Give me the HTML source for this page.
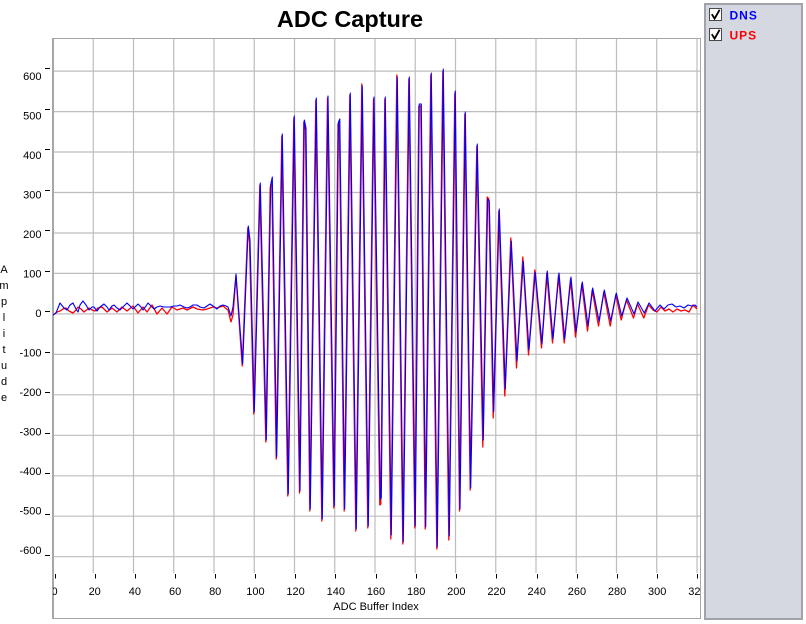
<!DOCTYPE html>
<html><head><meta charset="utf-8"><style>
html,body{margin:0;padding:0;background:#fff;}
svg{display:block;font-family:"Liberation Sans",Arial,sans-serif;}
</style></head><body>
<svg width="806" height="624" viewBox="0 0 806 624" xmlns="http://www.w3.org/2000/svg">
<rect x="0" y="0" width="806" height="624" fill="#fff"/>
<defs>
<clipPath id="pc"><rect x="53" y="38" width="648" height="535"/></clipPath>
<clipPath id="xl"><rect x="53" y="570" width="648" height="40"/></clipPath>
</defs>
<text x="350" y="27" font-size="23.5" font-weight="bold" text-anchor="middle" fill="#000">ADC Capture</text>
<rect x="52.5" y="38.5" width="648" height="580" fill="#fff" stroke="#a4a7ab" stroke-width="1"/>
<line x1="53.5" y1="38" x2="53.5" y2="619" stroke="#a4a7ab" stroke-width="1"/>
<g stroke="#bdbdbd" stroke-width="1.2">
<line x1="93.25" y1="39" x2="93.25" y2="573"/><line x1="133.5" y1="39" x2="133.5" y2="573"/>
<line x1="173.75" y1="39" x2="173.75" y2="573"/><line x1="214" y1="39" x2="214" y2="573"/>
<line x1="254.25" y1="39" x2="254.25" y2="573"/><line x1="294.5" y1="39" x2="294.5" y2="573"/>
<line x1="334.75" y1="39" x2="334.75" y2="573"/><line x1="375" y1="39" x2="375" y2="573"/>
<line x1="415.25" y1="39" x2="415.25" y2="573"/><line x1="455.5" y1="39" x2="455.5" y2="573"/>
<line x1="495.75" y1="39" x2="495.75" y2="573"/><line x1="536" y1="39" x2="536" y2="573"/>
<line x1="576.25" y1="39" x2="576.25" y2="573"/><line x1="616.5" y1="39" x2="616.5" y2="573"/>
<line x1="656.75" y1="39" x2="656.75" y2="573"/><line x1="697" y1="39" x2="697" y2="573"/>
<line x1="54" y1="71.1" x2="700" y2="71.1"/><line x1="54" y1="111.6" x2="700" y2="111.6"/>
<line x1="54" y1="152.0" x2="700" y2="152.0"/><line x1="54" y1="192.5" x2="700" y2="192.5"/>
<line x1="54" y1="233.0" x2="700" y2="233.0"/><line x1="54" y1="273.4" x2="700" y2="273.4"/>
<line x1="54" y1="313.9" x2="700" y2="313.9"/><line x1="54" y1="354.4" x2="700" y2="354.4"/>
<line x1="54" y1="394.8" x2="700" y2="394.8"/><line x1="54" y1="435.3" x2="700" y2="435.3"/>
<line x1="54" y1="475.8" x2="700" y2="475.8"/><line x1="54" y1="516.2" x2="700" y2="516.2"/>
<line x1="54" y1="556.7" x2="700" y2="556.7"/>
</g>
<g stroke="#000" stroke-width="1">
<line x1="45" y1="68.5" x2="50" y2="68.5"/><line x1="45" y1="109.5" x2="50" y2="109.5"/>
<line x1="45" y1="149.5" x2="50" y2="149.5"/><line x1="45" y1="190.5" x2="50" y2="190.5"/>
<line x1="45" y1="230.5" x2="50" y2="230.5"/><line x1="45" y1="271.5" x2="50" y2="271.5"/>
<line x1="45" y1="311.5" x2="50" y2="311.5"/><line x1="45" y1="352.5" x2="50" y2="352.5"/>
<line x1="45" y1="392.5" x2="50" y2="392.5"/><line x1="45" y1="433.5" x2="50" y2="433.5"/>
<line x1="45" y1="473.5" x2="50" y2="473.5"/><line x1="45" y1="514.5" x2="50" y2="514.5"/>
<line x1="45" y1="555.5" x2="50" y2="555.5"/>
</g>
<g font-size="11" text-anchor="end" fill="#000">
<text x="41.5" y="80">600</text><text x="41.5" y="119.5">500</text>
<text x="41.5" y="159">400</text><text x="41.5" y="198.5">300</text>
<text x="41.5" y="238">200</text><text x="41.5" y="277.5">100</text>
<text x="41.5" y="317">0</text><text x="41.5" y="356.5">-100</text>
<text x="41.5" y="396">-200</text><text x="41.5" y="435.5">-300</text>
<text x="41.5" y="475">-400</text><text x="41.5" y="514.5">-500</text>
<text x="41.5" y="554">-600</text>
</g>
<g stroke="#000" stroke-width="1">
<line x1="55.5" y1="574" x2="55.5" y2="578.5"/><line x1="95.5" y1="574" x2="95.5" y2="578.5"/>
<line x1="135.5" y1="574" x2="135.5" y2="578.5"/><line x1="175.5" y1="574" x2="175.5" y2="578.5"/>
<line x1="215.5" y1="574" x2="215.5" y2="578.5"/><line x1="255.5" y1="574" x2="255.5" y2="578.5"/>
<line x1="295.5" y1="574" x2="295.5" y2="578.5"/><line x1="335.5" y1="574" x2="335.5" y2="578.5"/>
<line x1="376.5" y1="574" x2="376.5" y2="578.5"/><line x1="416.5" y1="574" x2="416.5" y2="578.5"/>
<line x1="456.5" y1="574" x2="456.5" y2="578.5"/><line x1="496.5" y1="574" x2="496.5" y2="578.5"/>
<line x1="537.5" y1="574" x2="537.5" y2="578.5"/><line x1="577.5" y1="574" x2="577.5" y2="578.5"/>
<line x1="617.5" y1="574" x2="617.5" y2="578.5"/><line x1="657.5" y1="574" x2="657.5" y2="578.5"/>
<line x1="697.5" y1="574" x2="697.5" y2="578.5"/>
</g>
<g font-size="11" text-anchor="middle" fill="#000" clip-path="url(#xl)">
<text x="54.5" y="595">0</text><text x="94.7" y="595">20</text>
<text x="134.9" y="595">40</text><text x="175.1" y="595">60</text>
<text x="215.2" y="595">80</text><text x="255.4" y="595">100</text>
<text x="295.6" y="595">120</text><text x="335.8" y="595">140</text>
<text x="376" y="595">160</text><text x="416.2" y="595">180</text>
<text x="456.3" y="595">200</text><text x="496.5" y="595">220</text>
<text x="536.7" y="595">240</text><text x="576.9" y="595">260</text>
<text x="617.1" y="595">280</text><text x="657.2" y="595">300</text>
<text x="697.4" y="595">320</text>
</g>
<text x="376" y="610" font-size="11" text-anchor="middle" fill="#000">ADC Buffer Index</text>
<g font-size="11" text-anchor="middle" fill="#000">
<text x="4" y="273">A</text><text x="4" y="289">m</text><text x="4" y="305">p</text>
<text x="4" y="321">l</text><text x="4" y="337">i</text><text x="4" y="353">t</text>
<text x="4" y="369">u</text><text x="4" y="385">d</text><text x="4" y="401">e</text>
</g>
<g clip-path="url(#pc)" fill="none" stroke-linejoin="round">
<polyline stroke="#ff0000" stroke-width="1.3" points="53,315 57,312 60,311 63,309 66,308 69,311 73,313 76,310 78,307 81,309 84,312 89,308 92,310 95,311 98,308 102,307 107,312 112,308 117,312 122,307 127,311 133,306 138,313 143,307 147,312 152,305 157,314 162,308 167,314 172,307 177,310 183,308 187,310 193,307 197,309 203,310 207,309 213,307 217,308 223,306 228,310 231,322 233,315 236,276 242.2,366 247.8,228 249.5,242 253.8,414 259.8,185 265.8,442 270.2,188 271.8,180 276.2,459 281.8,136 287.8,496 293.8,118 299.5,493 303.8,122 305.5,130 309.8,511 315.8,100 321.8,521 327.5,98 333.8,508 338,124 339.3,121 344.2,511 349.8,95 355.8,531 361.8,84 367.8,528 373.5,99 379.8,505 380.8,504 384.8,99 390.8,539 396.8,75 402.8,544 408.8,79 414.8,528 418.8,106 420.8,106 425.2,529 430.8,75 436.8,549 442.8,71 448.8,540 454.8,93 459.5,511 464.8,114 470.2,490 476.8,146 482.8,447 487.2,197 488.8,199 493.2,418 498.8,211 504.8,396 510.8,238 516.5,368 522.8,257 528.5,355 534.8,270 541.5,348 546.8,273 552.5,343 558.5,275 564.2,343 570.5,279 575.5,337 581.8,284 587.5,331 592.2,290 598.5,326 603.8,292 610.2,326 615.8,295 621.2,320 626.5,300 633.5,318 637.5,304 643.8,318 648.5,305 653,310 657,312 661,307 665,311 669,309 673,312 677,309 681,311 685,310 689,312 693,305 697,309"/>
<polyline stroke="#0000ff" stroke-width="1.1" points="53,315 56,313 60,303 64,308 67,310 70,305 73,303 76,309 78,312 80,305 83,301 86,305 89,310 92,307 94,307 97,311 100,307 104,304 107,307 109,310 112,306 114,305 117,308 120,310 124,306 127,303 130,306 133,309 136,306 138,304 141,307 143,310 146,306 148,303 151,306 154,309 157,307 160,306 164,307 167,307 170,307 174,306 177,306 180,305 184,307 187,308 190,307 193,305 197,305 200,307 204,308 207,306 210,304 213,306 217,309 220,306 223,305 226,306 228,307 231,316 233,307 236,274 242.7,364 248.3,226 250,240 254.3,412 260.3,183 266.3,440 270.7,185 272.3,177 276.7,457 282.3,134 288.3,494 294.3,116 300,491 304.3,120 306,128 310.3,509 316.3,98 322.3,519 328,96 334.3,506 338.5,122 339.8,119 344.7,509 350.3,93 356.3,529 362.3,86 368.3,526 374,97 380.3,499 381.3,498 385.3,97 391.3,535 397.3,77 403.3,542 409.3,77 415.3,526 419.3,104 421.3,104 425.7,527 431.3,73 437.3,547 443.3,69 449.3,536 455.3,91 460,509 465.3,112 470.7,488 477.3,144 483.3,440 487.7,199 489.3,201 493.7,412 499.3,209 505.3,389 511.3,241 517,361 523.3,261 529,350 535.3,272 542,344 547.3,271 553,339 559,273 564.7,339 571,277 576,332 582.3,282 588,326 592.7,288 599,321 604.3,290 610.7,321 616.3,293 621.7,316 627,298 634,314 638,302 644.3,313 649,303 655,311 660,305 664,309 668,305 672,304 676,307 680,306 684,308 688,305 692,306 695,305 697,307"/>
</g>
<rect x="705" y="4" width="97" height="615" fill="#d5d8e0" stroke="#a0a3aa" stroke-width="2"/>
<rect x="709.5" y="8.5" width="12" height="12" fill="#fff" stroke="#4a4a4a" stroke-width="1"/>
<path d="M711.8,14.2 L714.6,18.6 L719.6,9.8" fill="none" stroke="#000" stroke-width="1.8"/>
<rect x="709.5" y="28.5" width="12" height="12" fill="#fff" stroke="#4a4a4a" stroke-width="1"/>
<path d="M711.8,34.2 L714.6,38.6 L719.6,29.8" fill="none" stroke="#000" stroke-width="1.8"/>
<text x="729.5" y="19.5" font-size="12" font-weight="bold" letter-spacing="1" fill="#0000ff">DNS</text>
<text x="729.5" y="39.5" font-size="12" font-weight="bold" letter-spacing="1" fill="#ff0000">UPS</text>
</svg>
</body></html>
